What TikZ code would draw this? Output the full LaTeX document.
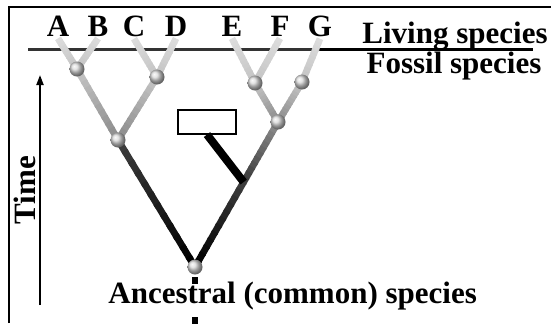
\documentclass[tikz,border=0pt]{standalone}
\usepackage{fontspec}
\setmainfont{Liberation Serif}
\usetikzlibrary{calc,arrows.meta}
\pgfdeclarelayer{bg}
\pgfsetlayers{bg,main}

\definecolor{tipgray}{HTML}{DCDCDC}
\definecolor{lightgray}{HTML}{C4C4C4}
\definecolor{midgray}{HTML}{8C8C8C}
\definecolor{darkgray}{HTML}{3C3C3C}
\newcommand{\lbl}{\fontsize{15.5}{18}\selectfont\bfseries}

\tikzset{
  ball/.style={circle, inner sep=0pt, minimum size=7.5pt, shading=ball, ball color=gray!30},
  tip/.style={anchor=base, inner sep=1pt, font=\lbl},
  br/.style={line width=3.4pt, line cap=butt},
}
% branch drawn as a run of short pieces, colour going from #3 to #4
\newcommand{\branch}[4]{%
  \foreach \i in {0,...,11} {
    \pgfmathsetmacro\p{100*\i/11}
    \draw[br, #4!\p!#3] ($(#1)!\i/12!(#2)$) -- ($(#1)!{(\i+1.3)/12}!(#2)$);
  }}

\begin{document}
\begin{tikzpicture}[x=0.5pt,y=-0.5pt]
  \useasboundingbox (0,0) rectangle (551,323);
  \draw[line width=0.8pt] (9,323) -- (9,7) -- (551,7);

  % species at the top
  \node[tip] (A) at (58,36) {A};
  \node[tip] (B) at (98,36) {B};
  \node[tip] (C) at (134,36) {C};
  \node[tip] (D) at (176,36) {D};
  \node[tip] (E) at (232,36) {E};
  \node[tip] (F) at (280,36) {F};
  \node[tip] (G) at (320,36) {G};

  % branching points
  \node[ball] (ab) at (77,69) {};
  \node[ball] (cd) at (157,77) {};
  \node[ball] (abcd) at (118,140) {};
  \node[ball] (ef) at (255,83) {};
  \node[ball] (g1) at (302,82) {};
  \node[ball] (efg) at (278,122) {};
  \node[ball] (root) at (195,267) {};
  \coordinate (jn) at ($(efg)!0.414!(root)$);

  \begin{pgfonlayer}{bg}
    \draw[line width=1.5pt, black!80] (28,49) -- (320,49);
    \draw[line width=1.5pt] (320,49) -- (533,49);
    \branch{A.south}{ab}{tipgray}{lightgray}
    \branch{B.south}{ab}{tipgray}{lightgray}
    \branch{C.south}{cd}{tipgray}{lightgray}
    \branch{D.south}{cd}{tipgray}{lightgray}
    \branch{E.south}{ef}{tipgray}{lightgray}
    \branch{F.south}{ef}{tipgray}{lightgray}
    \branch{G.south}{g1}{tipgray}{lightgray}
    \branch{ab}{abcd}{lightgray}{midgray}
    \branch{cd}{abcd}{lightgray}{midgray}
    \branch{ef}{efg}{lightgray}{midgray}
    \branch{g1}{efg}{lightgray}{midgray}
    \branch{abcd}{root}{darkgray}{black}
    \branch{efg}{jn}{midgray}{darkgray}
    \branch{jn}{root}{darkgray}{black}
  \end{pgfonlayer}

  % missing link
  \node[draw, line width=0.6pt, minimum width=29pt, minimum height=12pt, inner sep=0pt] (box) at (207,122) {};
  \draw[line width=4pt] (box.south) -- (jn);

  \coordinate (rb) at (195,277);
  \coordinate (re) at (195,330);
  \draw[line width=3pt, dash pattern=on 3.5pt off 16.5pt] (rb) -- (re);

  \node[anchor=base, font=\lbl] (living) at (455,43) {Living species};
  \node[anchor=base, font=\lbl] (fossil) at (454,73) {Fossil species};
  \node[anchor=base west, inner sep=0pt, font=\lbl] (anc) at (108,303) {Ancestral (common) species};

  % time axis
  \coordinate (t0) at (40,305);
  \coordinate (t1) at (40,75);
  \draw[line width=1pt, -{Triangle[length=5pt,width=3.5pt]}] (t0) -- (t1);
  \node[rotate=90, font=\lbl] (time) at (25,190) {Time};
\end{tikzpicture}
\end{document}
